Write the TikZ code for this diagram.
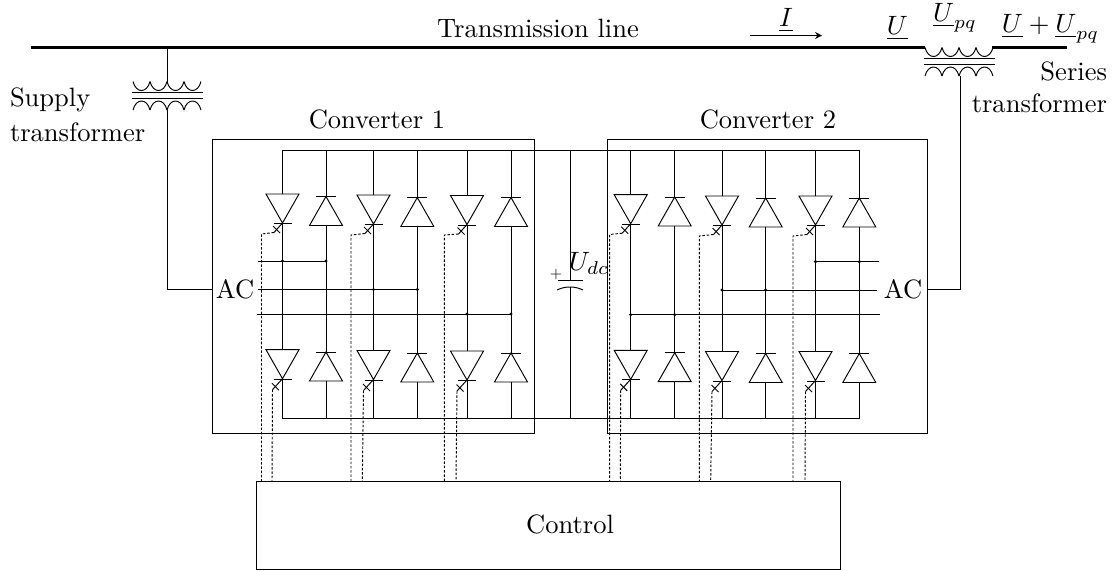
\documentclass[tikz,border=0pt]{standalone}
\usetikzlibrary{arrows.meta,calc}
\tikzset{
  wire/.style={line width=0.36pt,line join=miter},
  busline/.style={line width=0.95pt},
  box/.style={draw,line width=0.36pt},
  gate/.style={line width=0.36pt,dash pattern=on 0.95pt off 0.67pt},
  lab/.style={inner sep=0pt,outer sep=0pt},
  dotj/.style={circle,fill=black,inner sep=0pt,minimum size=1.3pt}
}
% thyristor: top centre (x,y); coordinates name-a (top) and name-k (apex)
\newcommand{\thyr}[3]{%
  \draw[wire] (#2-16.5,#3) -- (#2+16.5,#3) -- (#2,#3+29) -- cycle;
  \draw[wire] (#2-9,#3+29.5) -- (#2+9,#3+29.5);
  \coordinate (#1-a) at (#2,#3);
  \coordinate (#1-k) at (#2,#3+29);
}
% diode: bar centre (x,y); coordinates name-k (bar) and name-a (base)
\newcommand{\diod}[3]{%
  \draw[wire] (#2-10,#3) -- (#2+10,#3);
  \draw[wire] (#2,#3) -- (#2+16.5,#3+29) -- (#2-16.5,#3+29) -- cycle;
  \coordinate (#1-k) at (#2,#3);
  \coordinate (#1-a) at (#2,#3+29);
}
% upper gate: marker from the apex, dashed across to x, then down to control
\newcommand{\ugate}[3]{%
  \draw[wire] (#1-k) -- ++(-8.5,9.5) coordinate (#1-g);
  \draw[wire] ($(#1-k)+(-9.5,3)$) -- ++(7,7);
  \draw[gate] (#1-g) -- (#2,#3) -- (#2,0 |- ctrl.north);
}
\newcommand{\lowgate}[2]{%
  \draw[wire] (#1-k) -- ++(-10,11) coordinate (#1-g);
  \draw[wire] ($(#1-k)+(-10.5,4.5)$) -- ++(7,7);
  \draw[gate] (#1-g) -- (#2,0 |- ctrl.north);
}
\newcommand{\coil}[3]{% x, y of left end, direction (+ hangs down, - arches up)
  \foreach \i in {0,1,2,3}{
    \draw[wire] ({#1+17*\i},#2) .. controls +(3,#3) and +(-3,#3) .. +(17,0);
  }
}
\begin{document}
\begin{tikzpicture}[x=0.377pt,y=-0.377pt]
\useasboundingbox (0,0) rectangle (1119,570);

% text
\node[lab] (tline) at (538,28) {Transmission line};
\node[lab] (curr) at (786,20) {$\underline{I}$};
\node[lab] (uone) at (897.5,28) {$\underline{U}$};
\node[lab] (upq) at (955,18) {$\underline{U}_{pq}$};
\node[lab] (usum) at (1050.5,29) {$\underline{U}+\underline{U}_{pq}$};
\node[lab,anchor=east] (ser1) at (1107,71) {Series};
\node[lab,anchor=east] (ser2) at (1107,103) {transformer};
\node[lab,anchor=west] (sup1) at (10,100) {Supply};
\node[lab,anchor=west] (sup2) at (10,132) {transformer};
\node[lab] (c1t) at (377,119) {Converter 1};
\node[lab] (c2t) at (768,119) {Converter 2};
\node[lab] (ac1) at (235,289) {AC};
\node[lab] (ac2) at (903,289) {AC};
\node[lab] (ctxt) at (570,524) {Control};

% boxes
\node[box,anchor=north west,minimum width=322*0.377pt,minimum height=294*0.377pt,inner sep=0pt] (conv1) at (212,138.5) {};
\node[box,anchor=north west,minimum width=320*0.377pt,minimum height=294*0.377pt,inner sep=0pt] (conv2) at (606.5,139) {};
\node[box,anchor=north west,minimum width=584*0.377pt,minimum height=88*0.377pt,inner sep=0pt] (ctrl) at (256,481) {};

% transmission line
\coordinate (t0) at (31,47.5);
\coordinate (t1) at (925,47.5);
\coordinate (t2) at (992,47.5);
\coordinate (t3) at (1067,47.5);
\draw[busline] (t0) -- (t1);
\draw[busline] (t2) -- (t3);
\coordinate (ia) at (750,35.5);
\coordinate (ib) at (822,35.5);
\draw[-{Stealth[length=2.6pt,width=2.6pt]},wire] (ia) -- (ib);

% supply transformer
\coil{133}{81.5}{12}
\draw[wire] (132,92) -- (203,92);
\draw[wire] (132,98) -- (203,98);
\coil{133}{110}{-12}
\coordinate (sTop) at (167,81.5);
\coordinate (sBot) at (167,110);
\coordinate (sTap) at (167,47.5);
\coordinate (sIn) at (212,289.5);
\draw[wire] (sTap) -- (sTop);
\draw[wire] (sBot) -- (sBot |- sIn) -- (sIn);

% series transformer
\coil{925}{47.5}{12}
\draw[wire] (924,58.5) -- (995,58.5);
\draw[wire] (924,64.5) -- (995,64.5);
\coil{925}{76}{-12}
\coordinate (rBot) at (960,76);
\coordinate (rIn) at (926.5,289);
\draw[wire] (rBot) -- (rBot |- rIn) -- (rIn);

% converter 1 devices
\thyr{a1}{282.5}{194}
\diod{a2}{326}{196.5}
\thyr{a3}{373.5}{195}
\diod{a4}{417.3}{197.5}
\thyr{a5}{467}{195.5}
\diod{a6}{511}{197.5}
\thyr{b1}{282.5}{349.7}
\diod{b2}{326}{352}
\thyr{b3}{373.5}{350.5}
\diod{b4}{417.3}{353}
\thyr{b5}{467}{351}
\diod{b6}{511}{353}
% converter 2 devices
\thyr{c1}{630.7}{194.7}
\diod{c2}{674.7}{197}
\thyr{c3}{722}{196}
\diod{c4}{765.7}{198}
\thyr{c5}{815.5}{196}
\diod{c6}{859.3}{198}
\thyr{d1}{630.7}{350.3}
\diod{d2}{674.7}{352.7}
\thyr{d3}{722}{351.5}
\diod{d4}{765.7}{353.5}
\thyr{d5}{815.5}{351.5}
\diod{d6}{859.3}{353.5}

% DC rails
\coordinate (railT) at (282.5,150.3);
\coordinate (railTe) at (859.3,150.3);
\coordinate (railB) at (282.5,418.5);
\coordinate (railBe) at (859.3,418.5);
\draw[wire] (a1-a) -- (railT) -- (railTe) -- (c6-k);
\draw[wire] (b1-k) -- (railB) -- (railBe) -- (d6-a);
\foreach \n in {a2-k,a3-a,a4-k,a5-a,a6-k,c1-a,c2-k,c3-a,c4-k,c5-a}{
  \draw[wire] (\n) -- (\n |- railT);
}
\foreach \n in {b2-a,b3-k,b4-a,b5-k,b6-a,d1-k,d2-a,d3-k,d4-a,d5-k}{
  \draw[wire] (\n) -- (\n |- railB);
}
% legs
\foreach \u/\l in {a1-k/b1-a,a2-a/b2-k,a3-k/b3-a,a4-a/b4-k,a5-k/b5-a,a6-a/b6-k,
                   c1-k/d1-a,c2-a/d2-k,c3-k/d3-a,c4-a/d4-k,c5-k/d5-a,c6-a/d6-k}{
  \draw[wire] (\u) -- (\l);
}

% AC phases converter 1
\coordinate (p1) at (258,261);
\coordinate (p2) at (258,289.5);
\coordinate (p3) at (257,314);
\draw[wire] (p1) -- (a2-a |- p1);
\draw[wire] (p2) -- (a4-a |- p2);
\draw[wire] (p3) -- (a6-a |- p3);
\node[dotj] (j1) at (a1-k |- p1) {};
\node[dotj] (j2) at (a2-a |- p1) {};
\node[dotj] (j3) at (a3-k |- p2) {};
\node[dotj] (j4) at (a4-a |- p2) {};
\node[dotj] (j5) at (a5-k |- p3) {};
\node[dotj] (j6) at (a6-a |- p3) {};
% AC phases converter 2
\coordinate (q1) at (879,261.7);
\coordinate (q2) at (877,290);
\coordinate (q3) at (880,314.7);
\draw[wire] (q1) -- (c5-k |- q1);
\draw[wire] (q2) -- (c3-k |- q2);
\draw[wire] (q3) -- (c1-k |- q3);
\node[dotj] (k1) at (c5-k |- q1) {};
\node[dotj] (k2) at (c6-a |- q1) {};
\node[dotj] (k3) at (c3-k |- q2) {};
\node[dotj] (k4) at (c4-a |- q2) {};
\node[dotj] (k5) at (c1-k |- q3) {};
\node[dotj] (k6) at (c2-a |- q3) {};

% gates
\ugate{a1}{261.5}{234}
\ugate{a3}{351}{235}
\ugate{a5}{444.3}{235}
\ugate{c1}{609.7}{234.5}
\ugate{c3}{699.3}{236}
\ugate{c5}{793}{236}
\lowgate{b1}{272}
\lowgate{b3}{362.3}
\lowgate{b5}{456}
\lowgate{d1}{620.3}
\lowgate{d3}{710.7}
\lowgate{d5}{805}

% capacitor
\coordinate (capT) at (570,280.7);
\coordinate (capB) at (570,287);
\coordinate (capRailT) at (570,150.3);
\coordinate (capRailB) at (570,418.5);
\draw[wire] (capRailT) -- (capT);
\draw[wire] (capB) -- (capRailB);
\draw[wire] (557.5,280.7) -- (583,280.7);
\draw[wire] (557,290) .. controls (565,286) and (575,286) .. (583,290);
\node[lab] (plus) at (556,275) {\scalebox{0.6}{$+$}};
\node[lab] (udc) at (589,263) {$U_{dc}$};
\end{tikzpicture}
\end{document}
